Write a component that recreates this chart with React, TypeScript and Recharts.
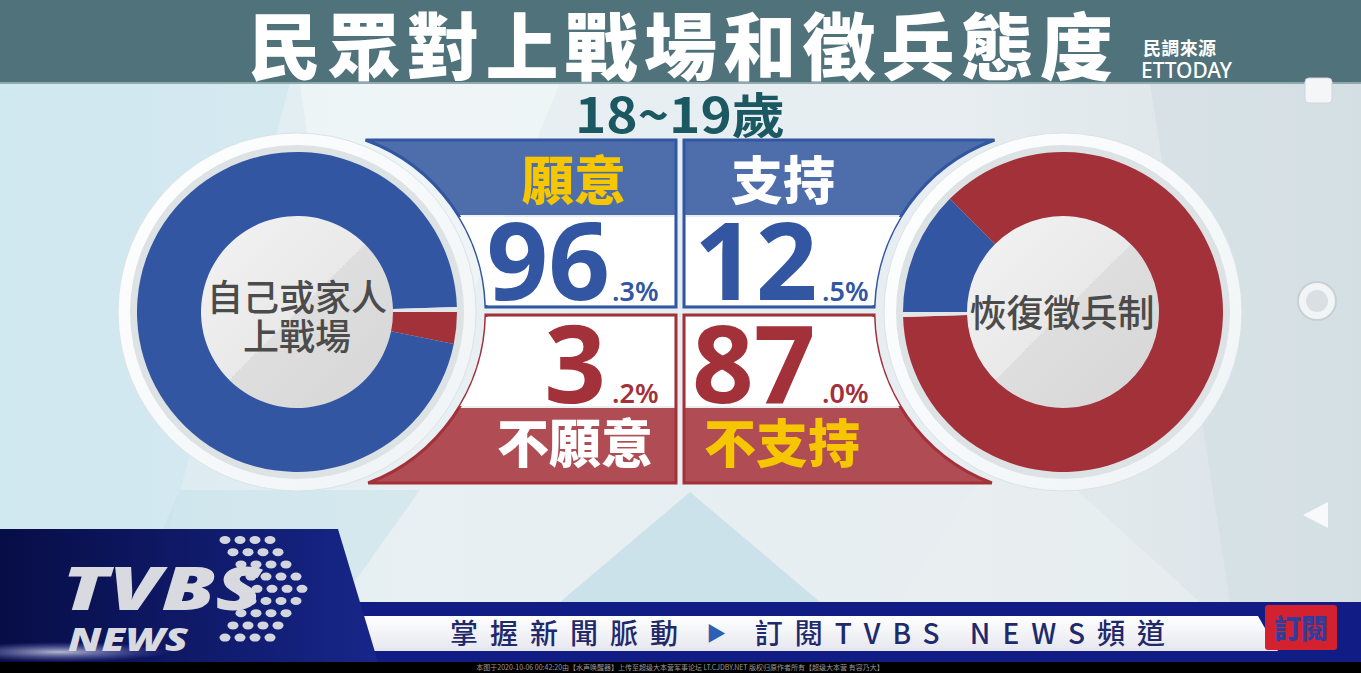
import React from 'react';
import { PieChart, Pie, Cell } from 'recharts';

const W = 1361;
const H = 673;

// text and values
const title = '民眾對上戰場和徵兵態度';
const sourceLines = ['民調來源', 'ETTODAY'];
const ageGroup = '18~19歲';

const battleQuestion = ['自己或家人', '上戰場'];
const battleNames = ['不願意', '願意', '未表態'];
const battleValues = [3.2, 96.3, 0.5];

const draftQuestion = ['恢復徵兵制'];
const draftNames = ['支持', '不支持', '未表態'];
const draftValues = [12.5, 87.0, 0.5];

const footerText = ['掌握新聞脈動', '訂閱TVBS NEWS頻道'];

const BLUE = '#3256a2';
const RED = '#a3313a';
const GAP = '#e2e6e8';
const YELLOW = '#f6c700';
const CJK = "'Noto Sans CJK TC', 'Noto Sans', sans-serif";
const NUM = "'Noto Sans', 'Open Sans', sans-serif";

const battleData = battleNames.map((name, i) => ({ name, value: battleValues[i] }));
const draftData = draftNames.map((name, i) => ({ name, value: draftValues[i] }));
const battleColors = [RED, BLUE, GAP];
const draftColors = [BLUE, RED, GAP];

// donut geometry
const LC = { x: 297, y: 312 };
const RC = { x: 1063, y: 312 };
const INNER = 96;
const OUTER = 160;
// the panels are cut by a circle a little off the donut centre
const CUT = 183;
const LCUT = { x: 303, y: 312 };
const RCUT = { x: 1057, y: 312 };

const leftX = (y: number) => LCUT.x + Math.sqrt(CUT * CUT - (y - LCUT.y) ** 2);
const rightX = (y: number) => RCUT.x - Math.sqrt(CUT * CUT - (y - RCUT.y) ** 2);
const leftBox = (a: number, b: number, xr: number) =>
  `M${leftX(a)},${a} L${xr},${a} L${xr},${b} L${leftX(b)},${b} A${CUT},${CUT} 0 0 0 ${leftX(a)},${a} Z`;
const rightBox = (a: number, b: number, xl: number) =>
  `M${xl},${a} L${rightX(a)},${a} A${CUT},${CUT} 0 0 0 ${rightX(b)},${b} L${xl},${b} Z`;

const splitPct = (v: number) => {
  const [i, d] = v.toFixed(1).split('.');
  return [i, '.' + d + '%'];
};

const dotOffsets = [0, 8, 16, 26, 32, 26, 16, 8, 0];

const Background = () => (
  <svg width={W} height={H} style={{ position: 'absolute', left: 0, top: 0 }}>
    <defs>
      <linearGradient id="bg" x1="0" y1="0" x2="1" y2="0">
        <stop offset="0" stopColor="#d4e9f0" />
        <stop offset="0.3" stopColor="#e8f0f3" />
        <stop offset="0.7" stopColor="#e7edf0" />
        <stop offset="1" stopColor="#d8e2e7" />
      </linearGradient>
      <linearGradient id="inner" x1="0" y1="0" x2="1" y2="1">
        <stop offset="0" stopColor="#f3f3f3" />
        <stop offset="0.5" stopColor="#e9e9e9" />
        <stop offset="0.5" stopColor="#dedede" />
        <stop offset="1" stopColor="#d6d6d6" />
      </linearGradient>
      <linearGradient id="ring" x1="0" y1="0" x2="1" y2="1">
        <stop offset="0" stopColor="#ffffff" />
        <stop offset="1" stopColor="#eef3f5" />
      </linearGradient>
    </defs>
    <rect x={0} y={0} width={W} height={H} fill="url(#bg)" />
    <polygon points="0,83 290,83 150,602 0,602" fill="#cfe7ef" opacity={0.7} />
    <polygon points="300,83 560,83 470,300 330,300" fill="#f4f8f9" opacity={0.6} />
    <polygon points="560,602 690,492 820,602" fill="#bfdde8" opacity={0.7} />
    <polygon points="1150,83 1361,83 1361,602 1230,602" fill="#d2dde2" opacity={0.6} />
    <polygon points="1010,430 1200,602 900,602" fill="#e9eff1" opacity={0.7} />
    <polygon points="180,490 420,490 340,602 130,602" fill="#c8e2eb" opacity={0.6} />

    {/* title bar */}
    <rect x={0} y={0} width={W} height={83} fill="#50727a" />
    <rect x={0} y={82} width={W} height={2} fill="#8fa9ae" />

    {/* left panel */}
    <path d={leftBox(140, 215, 676)} fill="#4e6eab" />
    <path d={leftBox(140, 307, 676)} fill="none" stroke={BLUE} strokeWidth={3} />
    <path d={leftBox(408, 483, 676)} fill="#b04c53" />
    <path d={leftBox(315, 483, 676)} fill="none" stroke={RED} strokeWidth={3} />
    <path d={leftBox(217, 305, 674)} fill="#ffffff" />
    <path d={leftBox(317, 406, 674)} fill="#ffffff" />

    {/* right panel */}
    <path d={rightBox(140, 215, 684)} fill="#4e6eab" />
    <path d={rightBox(140, 307, 684)} fill="none" stroke={BLUE} strokeWidth={3} />
    <path d={rightBox(408, 483, 684)} fill="#b04c53" />
    <path d={rightBox(315, 483, 684)} fill="none" stroke={RED} strokeWidth={3} />
    <path d={rightBox(217, 305, 686)} fill="#ffffff" />
    <path d={rightBox(317, 406, 686)} fill="#ffffff" />

    {/* rings and inner discs */}
    {[LC, RC].map((c, i) => (
      <g key={i}>
        <circle cx={c.x} cy={c.y} r={179} fill="url(#ring)" stroke="#dbe3e6" strokeWidth={1} />
        <circle cx={c.x} cy={c.y} r={167} fill="#dde2e5" />
        <circle cx={c.x} cy={c.y} r={INNER} fill="url(#inner)" />
      </g>
    ))}
  </svg>
);

const Donuts = () => (
  <div style={{ position: 'absolute', left: 0, top: 0 }}>
    <PieChart width={W} height={H} margin={{ top: 0, right: 0, bottom: 0, left: 0 }}>
      <Pie
        data={battleData}
        dataKey="value"
        nameKey="name"
        cx={LC.x}
        cy={LC.y}
        innerRadius={INNER}
        outerRadius={OUTER}
        startAngle={0}
        endAngle={-360}
        stroke="none"
        isAnimationActive={false}
      >
        {battleData.map((d, i) => (
          <Cell key={d.name} fill={battleColors[i]} />
        ))}
      </Pie>
      <Pie
        data={draftData}
        dataKey="value"
        nameKey="name"
        cx={RC.x}
        cy={RC.y}
        innerRadius={INNER}
        outerRadius={OUTER}
        startAngle={180}
        endAngle={-180}
        stroke="none"
        isAnimationActive={false}
      >
        {draftData.map((d, i) => (
          <Cell key={d.name} fill={draftColors[i]} />
        ))}
      </Pie>
    </PieChart>
  </div>
);

const Overlay = () => {
  const willing = splitPct(battleValues[1]);
  const unwilling = splitPct(battleValues[0]);
  const support = splitPct(draftValues[0]);
  const oppose = splitPct(draftValues[1]);
  return (
    <svg width={W} height={H} style={{ position: 'absolute', left: 0, top: 0, pointerEvents: 'none' }}>
      <defs>
        <linearGradient id="navy" x1="0" y1="0" x2="1" y2="0">
          <stop offset="0" stopColor="#070d45" />
          <stop offset="1" stopColor="#17268a" />
        </linearGradient>
        <linearGradient id="whiteBand" x1="0" y1="0" x2="0" y2="1">
          <stop offset="0" stopColor="#ffffff" />
          <stop offset="1" stopColor="#e6e7ee" />
        </linearGradient>
        <radialGradient id="glare" cx="0.5" cy="0.5" r="0.5">
          <stop offset="0" stopColor="#ffffff" stopOpacity={0.7} />
          <stop offset="1" stopColor="#8a8cff" stopOpacity={0} />
        </radialGradient>
      </defs>

      {/* titles */}
      <text x={248} y={74} fontFamily={CJK} fontWeight={900} fontSize={73} fill="#ffffff"
        textLength={865} lengthAdjust="spacing">{title}</text>
      <text x={1143} y={55} fontFamily={CJK} fontWeight={700} fontSize={18} fill="#ffffff"
        textLength={73}>{sourceLines[0]}</text>
      <text x={1141} y={78} fontFamily={NUM} fontWeight={500} fontSize={21} fill="#ffffff"
        textLength={91} lengthAdjust="spacingAndGlyphs">{sourceLines[1]}</text>
      <text x={575} y={133} fontFamily={CJK} fontWeight={700} fontSize={48} fill="#1b5862"
        textLength={210} lengthAdjust="spacingAndGlyphs">{ageGroup}</text>

      {/* band labels */}
      <text x={574} y={200} textAnchor="middle" fontFamily={CJK} fontWeight={900} fontSize={52} fill={YELLOW}>{battleNames[1]}</text>
      <text x={783} y={200} textAnchor="middle" fontFamily={CJK} fontWeight={900} fontSize={52} fill="#ffffff">{draftNames[0]}</text>
      <text x={575} y={463} textAnchor="middle" fontFamily={CJK} fontWeight={900} fontSize={52} fill="#ffffff">{battleNames[0]}</text>
      <text x={782} y={463} textAnchor="middle" fontFamily={CJK} fontWeight={900} fontSize={52} fill={YELLOW}>{draftNames[1]}</text>

      {/* numbers */}
      <text x={610} y={300} textAnchor="end" fontFamily={NUM} fontWeight={700} fontSize={108} fill={BLUE}>{willing[0]}</text>
      <text x={612} y={301} fontFamily={NUM} fontWeight={600} fontSize={27} fill={BLUE}>{willing[1]}</text>
      <text x={606} y={403} textAnchor="end" fontFamily={NUM} fontWeight={700} fontSize={108} fill={RED}>{unwilling[0]}</text>
      <text x={612} y={403} fontFamily={NUM} fontWeight={600} fontSize={27} fill={RED}>{unwilling[1]}</text>
      <text x={694} y={300} fontFamily={NUM} fontWeight={700} fontSize={108} fill={BLUE}>{support[0]}</text>
      <text x={822} y={301} fontFamily={NUM} fontWeight={600} fontSize={27} fill={BLUE}>{support[1]}</text>
      <text x={692} y={403} fontFamily={NUM} fontWeight={700} fontSize={108} fill={RED}>{oppose[0]}</text>
      <text x={822} y={403} fontFamily={NUM} fontWeight={600} fontSize={27} fill={RED}>{oppose[1]}</text>

      {/* donut centre labels */}
      <text x={LC.x} y={311} textAnchor="middle" fontFamily={CJK} fontWeight={500} fontSize={36} fill="#4b4b4b">{battleQuestion[0]}</text>
      <text x={LC.x} y={350} textAnchor="middle" fontFamily={CJK} fontWeight={500} fontSize={36} fill="#4b4b4b">{battleQuestion[1]}</text>
      <text x={RC.x - 1} y={327} textAnchor="middle" fontFamily={CJK} fontWeight={500} fontSize={37} fill="#4b4b4b">{draftQuestion[0]}</text>

      {/* phone UI marks */}
      <rect x={1305} y={78} width={27} height={25} rx={4} fill="#f4f6f7" stroke="#cfd6d9" />
      <circle cx={1317} cy={301} r={19} fill="#f2f5f6" stroke="#c8d0d4" strokeWidth={2} />
      <circle cx={1317} cy={301} r={11} fill="#d9dfe2" />
      <polygon points="1303,515 1328,502 1328,528" fill="#f7f9fa" />

      {/* footer bar */}
      <rect x={330} y={602} width={W - 330} height={60} fill="#111c84" />
      <polygon points="347,616 1258,616 1278,651 372,651" fill="url(#whiteBand)" />
      <text x={450} y={644} fontFamily={CJK} fontWeight={500} fontSize={28} fill="#1f2a6c"
        textLength={715} lengthAdjust="spacing">
        {footerText[0]}
        <tspan fill="#2d5fb4" fontSize={20} dy={-3}> ▶ </tspan>
        <tspan dy={3}>{footerText[1]}</tspan>
      </text>
      <rect x={1265} y={605} width={72} height={45} rx={3} fill="#d3212f" />
      <text x={1301} y={639} textAnchor="middle" fontFamily={CJK} fontWeight={900} fontSize={27} fill="#2c3f9e">訂閱</text>

      {/* logo block */}
      <polygon points="0,529 338,529 378,662 0,662" fill="url(#navy)" />
      <ellipse cx={60} cy={652} rx={110} ry={10} fill="url(#glare)" />
      {dotOffsets.map((off, r) =>
        [0, 1, 2, 3].map((c) => (
          <ellipse key={`${r}-${c}`} cx={225 + off + c * 15} cy={540 + r * 12.2} rx={5.5} ry={4}
            fill="#d4d6de" />
        ))
      )}
      <text x={62} y={610} fontFamily={NUM} fontStyle="italic" fontWeight={900} fontSize={60}
        fill="#d9dadf" textLength={200} lengthAdjust="spacingAndGlyphs">TVBS</text>
      <text x={68} y={651} fontFamily={NUM} fontStyle="italic" fontWeight={900} fontSize={32}
        fill="#d9dadf" textLength={120} lengthAdjust="spacingAndGlyphs">NEWS</text>

      {/* bottom strip */}
      <rect x={0} y={662} width={W} height={11} fill="#000000" />
      <text x={680} y={670} textAnchor="middle" fontFamily={CJK} fontSize={7} fill="#9a9a9a">
        本图于2020-10-06 00:42:20由【水声唤醒器】上传至超级大本营军事论坛 LT.CJDBY.NET 版权归原作者所有【超级大本营 有容乃大】
      </text>
    </svg>
  );
};

export default function App() {
  return (
    <div style={{ position: 'absolute', left: 0, top: 0, width: W, height: H, overflow: 'hidden' }}>
      <Background />
      <Donuts />
      <Overlay />
    </div>
  );
}
